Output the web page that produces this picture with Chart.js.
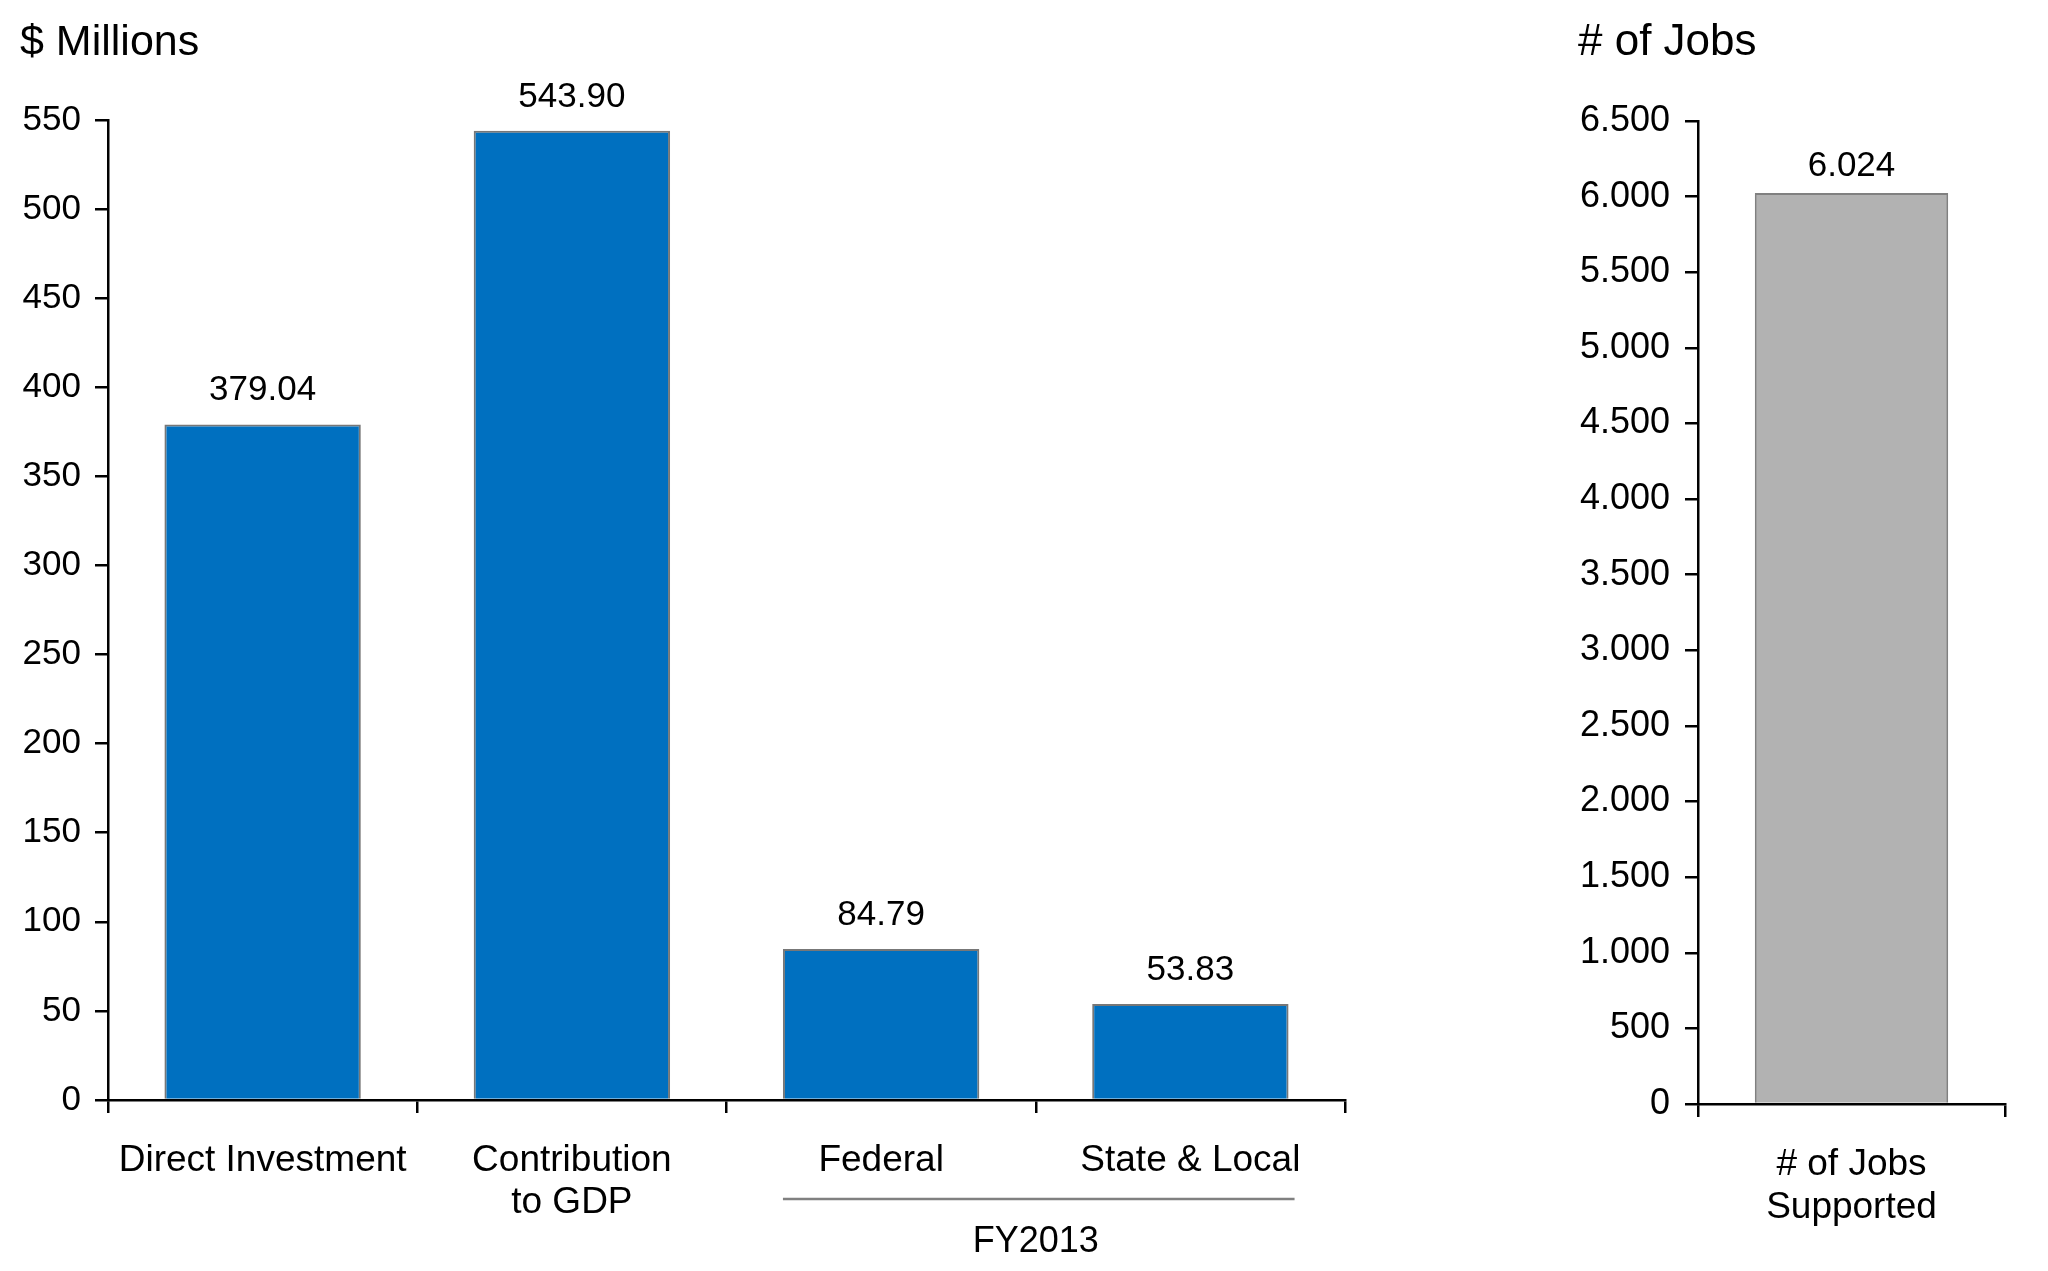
<!DOCTYPE html>
<html><head><meta charset="utf-8">
<script src="https://cdn.jsdelivr.net/npm/chart.js@4"></script>
<style>
html,body{margin:0;padding:0;background:#fff;width:2048px;height:1271px;overflow:hidden}
.box{position:absolute;top:0;height:1271px}
#b1{left:0;width:1400px}
#b2{left:1450px;width:598px}
</style></head><body>
<div class="box" id="b1"><canvas id="c1"></canvas></div>
<div class="box" id="b2"><canvas id="c2"></canvas></div>
<script>
// ---- data ----
const moneyCategories = ["Direct Investment", ["Contribution", "to GDP"], "Federal", "State & Local"];
const moneyValues = [379.04, 543.90, 84.79, 53.83];
const moneyMin = 0, moneyMax = 550, moneyStep = 50;
const moneyTitle = "$ Millions";
const groupLabel = "FY2013";
const groupFrom = 2, groupTo = 3;

const jobsCategories = [["# of Jobs", "Supported"]];
const jobsValues = [6024];
const jobsMin = 0, jobsMax = 6500, jobsStep = 500;
const jobsTitle = "# of Jobs";

// ---- helpers ----
const FONT = '"Liberation Sans", Arial, sans-serif';
Chart.defaults.font.family = FONT;
Chart.defaults.color = '#000';
const fmtThousands = v => String(Math.round(v)).replace(/\B(?=(\d{3})+(?!\d))/g, '.');
const fmt2 = v => Number(v).toFixed(2);

function valueLabels(fmt, off) {
  return { id: 'vals', afterDatasetsDraw(chart) {
    const ctx = chart.ctx; ctx.save();
    ctx.font = '35px ' + FONT; ctx.fillStyle = '#000';
    ctx.textAlign = 'center'; ctx.textBaseline = 'middle';
    chart.getDatasetMeta(0).data.forEach((bar, i) => {
      ctx.fillText(fmt(chart.data.datasets[0].data[i]), bar.x, bar.y - off);
    });
    ctx.restore();
  }};
}
function titleText(text, x, y, size) {
  return { id: 'ttl', afterDraw(chart) {
    const ctx = chart.ctx; ctx.save();
    ctx.font = size + 'px ' + FONT; ctx.fillStyle = '#000';
    ctx.textAlign = 'left'; ctx.textBaseline = 'middle';
    ctx.fillText(text, x, y); ctx.restore();
  }};
}
const groupPlugin = { id: 'grp', afterDraw(chart) {
  const ctx = chart.ctx, meta = chart.getDatasetMeta(0), xs = chart.scales.x;
  const a = meta.data[groupFrom], b = meta.data[groupTo];
  const y = chart.chartArea.bottom + 99;
  ctx.save();
  ctx.strokeStyle = '#808080'; ctx.lineWidth = 2.5;
  ctx.beginPath(); ctx.moveTo(a.x - a.width / 2, y); ctx.lineTo(b.x + b.width / 2 + 6, y); ctx.stroke();
  ctx.font = '36px ' + FONT; ctx.fillStyle = '#000'; ctx.textAlign = 'center'; ctx.textBaseline = 'middle';
  ctx.fillText(groupLabel, (xs.getPixelForValue(groupFrom) + xs.getPixelForValue(groupTo)) / 2, chart.chartArea.bottom + 142);
  ctx.restore();
}};

function axisGrid() {
  return { display: true, drawOnChartArea: false, drawTicks: true, tickLength: 13, color: '#000', lineWidth: 2.5 };
}

// ---- left chart ----
new Chart(document.getElementById('c1'), {
  type: 'bar',
  data: { labels: moneyCategories, datasets: [{ data: moneyValues, backgroundColor: '#0070C0', borderColor: '#777777', borderWidth: 2, barPercentage: 0.635, categoryPercentage: 1 }] },
  options: {
    responsive: true, maintainAspectRatio: false, animation: false,
    layout: { padding: { left: 0, right: 55, top: 120, bottom: 0 } },
    plugins: { legend: { display: false }, tooltip: { enabled: false } },
    scales: {
      x: { grid: Object.assign(axisGrid(), { offset: true }), border: { display: true, color: '#000', width: 2.5 },
           ticks: { font: { size: 37, lineHeight: 1.14 }, padding: 27, maxRotation: 0, autoSkip: false },
           afterFit(s) { s.height = 171; } },
      y: { min: moneyMin, max: moneyMax, grid: axisGrid(), border: { display: true, color: '#000', width: 2.5 },
           ticks: { stepSize: moneyStep, font: { size: 35 }, padding: 14 },
           afterFit(s) { s.width = 108; } }
    }
  },
  plugins: [valueLabels(fmt2, 34), titleText(moneyTitle, 20, 43, 43), groupPlugin]
});

// ---- right chart ----
new Chart(document.getElementById('c2'), {
  type: 'bar',
  data: { labels: jobsCategories, datasets: [{ data: jobsValues, backgroundColor: '#B2B2B2', borderColor: '#808080', borderWidth: 2, barPercentage: 0.63, categoryPercentage: 1 }] },
  options: {
    responsive: true, maintainAspectRatio: false, animation: false,
    layout: { padding: { left: 0, right: 43, top: 121, bottom: 0 } },
    plugins: { legend: { display: false }, tooltip: { enabled: false } },
    scales: {
      x: { grid: Object.assign(axisGrid(), { offset: true }), border: { display: true, color: '#000', width: 2.5 },
           ticks: { font: { size: 37, lineHeight: 1.16 }, padding: 26, maxRotation: 0, autoSkip: false },
           afterFit(s) { s.height = 167; } },
      y: { min: jobsMin, max: jobsMax, grid: axisGrid(), border: { display: true, color: '#000', width: 2.5 },
           ticks: { stepSize: jobsStep, font: { size: 36 }, padding: 15, callback: v => fmtThousands(v) },
           afterFit(s) { s.width = 248; } }
    }
  },
  plugins: [valueLabels(fmtThousands, 27), titleText(jobsTitle, 128, 43, 44)]
});
</script>
</body></html>
